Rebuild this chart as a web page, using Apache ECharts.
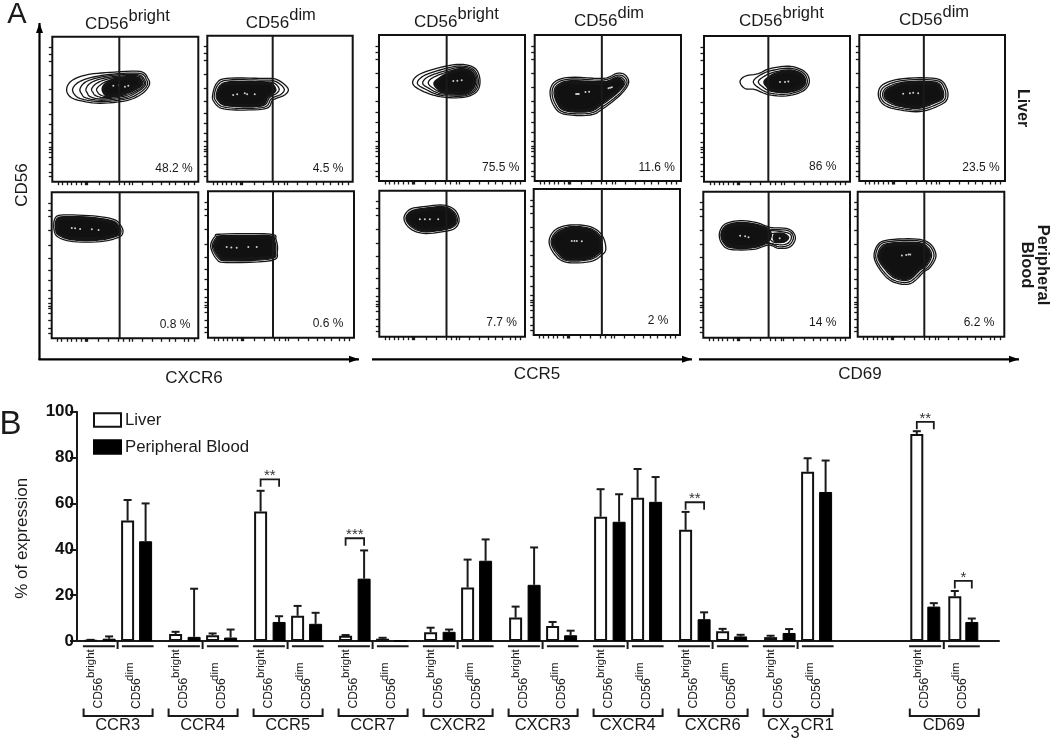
<!DOCTYPE html>
<html><head><meta charset="utf-8">
<style>html,body{margin:0;padding:0;background:#fff}#c{width:1050px;height:739px}</style>
<script src="https://cdn.jsdelivr.net/npm/echarts@6/dist/echarts.min.js"></script>
</head><body><div id="c"></div>
<script>
// ---------- Panel B data ----------
const markers = ['CCR3','CCR4','CCR5','CCR7','CXCR2','CXCR3','CXCR4','CXCR6','CX3CR1','CD69'];
const markerSlots = [0,1,2,3,4,5,6,7,8,9.72];
// order in each marker: bright, dim
const liverBright = [0.3,3,56.5,2.3,3.8,10.2,54.2,48.5,1.7,90.3];
const liverBrightTop = [0.5,4,65.5,2.6,5.8,15,66.2,56.3,2.3,91.5];
const bloodBright = [1,1.8,8.3,27.2,4,24.5,52,9.5,3.5,15];
const bloodBrightTop = [2,22.8,10.8,39.5,5,40.8,64,12.5,5.2,16.5];
const liverDim = [52.5,2.5,11,1,23.3,6.5,62.5,4.2,73.8,19.5];
const liverDimTop = [61.5,3.3,15.3,1.4,35.5,8.3,75,5.3,79.7,21.8];
const bloodDim = [43.5,1.5,7.5,0,35,2.5,60.7,2,65,8.3];
const bloodDimTop = [60,5,12.3,0,44.3,4.5,71.5,2.7,78.7,9.8];
const yTicks = {min:0,max:100,interval:20};
// marker, first bar, second bar, level, stars
const sigMarker = [2,3,7,9,9];
const sigFirstBar = [0,0,0,0,2];
const sigLevel = [70.5,44.8,60.5,95.6,26.2];
const sigStars = ['**','***','**','**','*'];

// ---------- Panel A data: contour rings ----------
const liverCXCR6Bright = [
 [[43,280],[58,305],[103,323],[173,330],[263,333],[288,310],[290,290],[268,265],[223,245],[143,237],[83,245],[53,257]],
 [[61,280],[78,300],[118,315],[183,325],[263,327],[283,307],[284,290],[263,269],[221,250],[143,242],[88,250],[68,262]],
 [[83,280],[98,300],[133,313],[188,322],[258,323],[278,305],[278,290],[258,273],[218,254],[148,246],[101,253],[88,265]],
 [[101,280],[113,297],[143,310],[190,318],[255,320],[274,304],[274,291],[255,276],[215,258],[150,250],[115,256],[105,268]],
 [[118,280],[130,295],[155,307],[192,315],[252,317],[270,303],[270,292],[252,279],[212,261],[158,254],[130,260],[122,270]],
 [[133,280],[145,293],[165,304],[195,312],[250,314],[267,302],[267,293],[250,281],[210,264],[165,257],[143,263],[136,271]]];
const liverCXCR6BrightCore = [[[153,283],[165,297],[195,310],[250,312],[264,301],[264,294],[248,284],[208,267],[170,260],[157,268]]];
const liverCXCR6BrightSpots = [[183,290],[200,291],[218,287],[228,290]];

const liverCXCR6Dim = [
 [[16,260],[28,295],[58,310],[158,310],[208,307],[243,280],[233,260],[198,245],[178,220],[98,215],[43,220],[20,240]],
 [[21,260],[33,292],[63,305],[158,305],[203,302],[231,280],[223,263],[193,249],[173,224],[98,220],[46,225],[26,242]],
 [[27,260],[38,288],[68,300],[158,300],[198,297],[216,280],[210,266],[188,253],[168,228],[98,225],[50,230],[32,244]]];
const liverCXCR6DimCore = [[[33,260],[43,284],[70,295],[155,295],[190,292],[203,278],[198,268],[180,255],[163,232],[98,229],[53,234],[37,246]]];
const liverCXCR6DimSpots = [[78,260],[90,262],[113,265],[120,262],[143,262]];

const bloodCXCR6Bright = [
 [[7,325],[10,360],[35,370],[125,367],[185,357],[205,340],[213,320],[200,303],[145,290],[65,290],[20,303]],
 [[12,325],[14,356],[37,365],[125,362],[182,352],[200,338],[207,320],[196,307],[145,295],[65,295],[23,308]]];
const bloodCXCR6BrightCore = [[[16,325],[18,352],[40,361],[125,358],[178,348],[195,335],[200,320],[190,311],[145,300],[65,300],[27,312]]];
const bloodCXCR6BrightSpots = [[60,331],[70,330],[85,328],[120,327],[140,325]];

const bloodCXCR6Dim = [
 [[8,273],[21,303],[41,310],[186,310],[204,293],[208,258],[191,231],[56,225],[26,235]],
 [[13,273],[25,299],[43,305],[184,305],[200,290],[203,258],[188,236],[58,230],[30,240]]];
const bloodCXCR6DimCore = [[[20,273],[30,295],[46,300],[180,300],[195,288],[197,258],[184,241],[60,235],[35,245]]];
const bloodCXCR6DimSpots = [[56,271],[70,270],[86,269],[121,271],[146,271]];

const liverCCR5Bright = [
 [[101,293],[118,318],[173,338],[243,350],[288,338],[303,303],[293,268],[253,251],[183,253],[128,271]],
 [[115,293],[133,315],[183,333],[243,345],[283,335],[298,303],[289,271],[251,255],[183,258],[138,276]],
 [[131,293],[146,312],[190,328],[243,341],[280,332],[294,303],[285,273],[250,258],[185,262],[150,278]],
 [[148,293],[158,308],[195,324],[243,337],[277,329],[290,303],[281,275],[249,261],[190,265],[162,279]]];
const liverCCR5BrightCore = [[[168,293],[180,305],[205,320],[243,333],[274,326],[286,303],[278,278],[248,264],[195,268],[176,280]]];
const liverCCR5BrightSpots = [[223,300],[235,301],[248,302]];

const liverCCR5Dim = [
 [[46,268],[61,298],[106,311],[206,308],[246,323],[271,318],[281,293],[256,258],[206,218],[166,198],[86,201],[56,228]],
 [[52,268],[66,294],[108,306],[206,303],[246,317],[267,313],[276,293],[252,260],[203,223],[164,203],[88,206],[61,232]],
 [[58,268],[71,290],[110,301],[206,298],[246,312],[263,308],[270,292],[246,263],[200,228],[162,208],[90,211],[66,236]]];
const liverCCR5DimCore = [[[64,268],[76,286],[112,296],[206,293],[245,306],[258,302],[263,290],[240,266],[196,233],[160,213],[92,216],[70,240]]];
const liverCCR5DimSpots = [[124,261],[128,261],[132,261],[152,267],[163,268],[221,278],[226,280],[231,281]];

const bloodCCR5Bright = [
 [[74,355],[92,382],[132,390],[192,395],[227,380],[240,350],[227,325],[192,315],[132,310],[92,325]],
 [[80,355],[96,377],[133,385],[192,390],[223,376],[235,350],[223,330],[190,320],[133,315],[96,330]]];
const bloodCCR5BrightCore = [[[85,355],[100,373],[135,380],[190,385],[218,372],[228,350],[218,334],[188,325],[135,320],[100,335]]];
const bloodCCR5BrightSpots = [[122,352],[137,352],[152,352],[177,352]];

const bloodCCR5Dim = [
 [[46,280],[64,315],[109,330],[169,325],[204,300],[216,260],[204,240],[169,220],[99,218],[64,240]],
 [[52,280],[69,311],[110,325],[167,320],[199,297],[206,258],[199,244],[167,226],[100,223],[68,245]]];
const bloodCCR5DimCore = [[[58,280],[75,306],[112,319],[164,315],[194,293],[201,258],[194,249],[164,232],[102,229],[74,250]]];
const bloodCCR5DimSpots = [[114,282],[122,282],[129,282],[144,281]];

const liverCD69Bright = [
 [[108,300],[123,317],[163,325],[198,340],[258,347],[303,330],[316,300],[298,273],[248,258],[193,262],[153,277],[123,280]],
 [[148,300],[163,317],[198,333],[258,341],[298,327],[310,300],[294,277],[248,263],[195,267],[163,283]],
 [[163,300],[175,313],[205,328],[258,336],[294,324],[305,300],[290,280],[248,268],[200,272],[175,286]]];
const liverCD69BrightCore = [[[183,300],[195,312],[215,323],[258,331],[290,321],[300,300],[286,283],[248,273],[205,276],[190,288]]];
const liverCD69BrightSpots = [[228,300],[243,300],[253,301]];

const liverCD69Dim = [
 [[57,260],[72,290],[132,307],[232,307],[262,280],[264,245],[237,225],[182,208],[112,215],[72,230]],
 [[63,260],[78,285],[134,302],[230,302],[256,278],[258,247],[233,230],[180,213],[114,220],[76,235]],
 [[70,260],[84,281],[136,297],[227,297],[250,276],[252,249],[229,235],[178,218],[117,225],[81,240]]];
const liverCD69DimCore = [[[78,260],[92,277],[140,292],[223,292],[244,274],[246,251],[225,240],[176,223],[120,230],[87,245]]];
const liverCD69DimSpots = [[132,262],[152,263],[162,265],[177,263]];

const bloodCD69Bright = [
 [[48,313],[65,341],[110,351],[160,345],[200,331],[255,326],[275,301],[260,273],[225,268],[195,278],[150,265],[80,265],[55,283]],
 [[53,313],[69,337],[110,346],[160,340],[198,326],[253,321],[269,301],[256,278],[225,273],[195,283],[150,270],[82,270],[59,287]],
 [[185,320],[250,315],[263,301],[252,283],[225,279],[185,290]],
 [[205,312],[240,312],[255,300],[240,287],[210,287],[198,300]]];
const bloodCD69BrightCore = [
 [[58,313],[74,333],[112,341],[160,335],[195,322],[195,295],[150,275],[85,275],[64,290]],
 [[215,308],[240,308],[248,298],[238,290],[215,292]]];
const bloodCD69BrightSpots = [[110,306],[125,304],[135,301],[228,298]];

const bloodCD69Dim = [
 [[49,240],[62,280],[97,293],[177,295],[217,280],[234,245],[217,210],[197,195],[157,160],[107,165],[72,195]],
 [[54,240],[66,277],[99,288],[177,290],[213,276],[228,245],[212,212],[192,198],[155,166],[109,170],[76,199]],
 [[60,240],[71,273],[101,283],[176,285],[208,272],[221,245],[206,214],[187,202],[153,172],[112,176],[81,204]]];
const bloodCD69DimCore = [[[66,240],[76,268],[104,278],[174,280],[203,268],[214,245],[200,217],[182,206],[151,178],[115,182],[86,208]]];
const bloodCD69DimSpots = [[132,245],[145,247],[152,248],[157,248]];

const gatePositions = [201,197,203,195,203,201,202,204,193,194,195,199];
const percentLabels = ['48.2 %','4.5 %','0.8 %','0.6 %','75.5 %','11.6 %','7.7 %','2 %','86 %','23.5 %','14 %','6.2 %'];
const xAxisTicks = [18,30,45,58,72,88,100,103,106,140,170,200,215,232,240,270,300,328,350,370,395,408,425];
const yAxisTicks = [405,385,365,323,280,240,205,175,145,120,105,97,90,75,53,30,15];

// ---------- Layout ----------
const FONT = '"Liberation Sans", Arial, sans-serif';
const INK = '#1a1a1a';
const frames = [
 [52.3,36.7,146,145],[207.3,35.7,145.4,146],[51.7,192.3,146.6,146],[208,191.3,146,146.4],
 [379,35,146,146],[534.7,35,146.3,146],[379.3,190.7,145.7,146],[533.7,189,146.3,146],
 [704,36,146,145.7],[859.3,35,145.7,146],[703.3,191.7,146.7,146],[857.7,191.7,146.6,145]];
const percentAt = [[174,169],[328,169],[175,325],[328,324],[500.7,168],[656.7,168],[501.7,323],[658,321],[822.7,167],[981,168],[822.7,323],[979,323]];
const panelData = [
 [liverCXCR6Bright,liverCXCR6BrightCore,liverCXCR6BrightSpots],[liverCXCR6Dim,liverCXCR6DimCore,liverCXCR6DimSpots],
 [bloodCXCR6Bright,bloodCXCR6BrightCore,bloodCXCR6BrightSpots],[bloodCXCR6Dim,bloodCXCR6DimCore,bloodCXCR6DimSpots],
 [liverCCR5Bright,liverCCR5BrightCore,liverCCR5BrightSpots],[liverCCR5Dim,liverCCR5DimCore,liverCCR5DimSpots],
 [bloodCCR5Bright,bloodCCR5BrightCore,bloodCCR5BrightSpots],[bloodCCR5Dim,bloodCCR5DimCore,bloodCCR5DimSpots],
 [liverCD69Bright,liverCD69BrightCore,liverCD69BrightSpots],[liverCD69Dim,liverCD69DimCore,liverCD69DimSpots],
 [bloodCD69Bright,bloodCD69BrightCore,bloodCD69BrightSpots],[bloodCD69Dim,bloodCD69DimCore,bloodCD69DimSpots]];

// Panel B x scale: one slot per marker
const slotWidth = 85, slotStart = 13.6;
const barOffsets = [0,18.5,37,55];
const lastMarkerOffsets = [0,17,38,55];
const markerX = i => slotStart + slotWidth * markerSlots[i];
const barX = (i,b) => markerX(i) + (i===markers.length-1 ? lastMarkerOffsets : barOffsets)[b];

const grids = [{left:77,top:411.7,width:922,height:229.3,show:false}];
const xAxes = [{type:'value',gridIndex:0,min:0,max:922,show:true,
  axisLine:{show:true,lineStyle:{color:INK,width:2}},axisTick:{show:false},axisLabel:{show:false},splitLine:{show:false}}];
const yAxes = [{type:'value',gridIndex:0,min:yTicks.min,max:yTicks.max,interval:yTicks.interval,
  axisLine:{show:true,onZero:false,lineStyle:{color:INK,width:2}},axisTick:{show:true,length:7,lineStyle:{color:INK,width:2}},
  axisLabel:{color:'#111',fontFamily:FONT,fontWeight:'bold',fontSize:17,margin:3},splitLine:{show:false},
  name:'% of expression',nameLocation:'middle',nameGap:46,nameRotate:90,
  nameTextStyle:{color:INK,fontFamily:FONT,fontSize:17,padding:[0,0,0,-24]}}];

const series = [];
const liverPts = [], bloodPts = [], errPts = [];
markers.forEach((m,i)=>{
  liverPts.push([barX(i,0),liverBright[i]],[barX(i,2),liverDim[i]]);
  bloodPts.push([barX(i,1),bloodBright[i]],[barX(i,3),bloodDim[i]]);
  errPts.push([barX(i,0),liverBright[i],liverBrightTop[i]],[barX(i,1),bloodBright[i],bloodBrightTop[i]],
              [barX(i,2),liverDim[i],liverDimTop[i]],[barX(i,3),bloodDim[i],bloodDimTop[i]]);
});
series.push({name:'Liver',type:'bar',xAxisIndex:0,yAxisIndex:0,data:liverPts,barWidth:13,barGap:'-100%',z:3,
  itemStyle:{color:'#fff',borderColor:'#111',borderWidth:2}});
series.push({name:'Peripheral Blood',type:'bar',xAxisIndex:0,yAxisIndex:0,data:bloodPts,barWidth:13,barGap:'-100%',z:3,
  itemStyle:{color:'#000',borderColor:'#000',borderWidth:1}});
series.push({type:'custom',xAxisIndex:0,yAxisIndex:0,data:errPts,encode:{x:0,y:2},z:2,silent:true,
  renderItem(p,api){
    const a=api.coord([api.value(0),api.value(1)]), b=api.coord([api.value(0),api.value(2)]);
    const st={stroke:INK,lineWidth:2,fill:null};
    if(api.value(2)<=api.value(1)) return null;
    return {type:'group',children:[
      {type:'line',shape:{x1:a[0],y1:a[1],x2:b[0],y2:b[1]},style:st},
      {type:'line',shape:{x1:b[0]-4,y1:b[1],x2:b[0]+4,y2:b[1]},style:st}]};
  }});
// significance brackets
series.push({type:'custom',xAxisIndex:0,yAxisIndex:0,
  data:sigMarker.map((m,k)=>[barX(m,sigFirstBar[k]),sigLevel[k],barX(m,sigFirstBar[k]+1)]),encode:{x:0,y:1},z:4,silent:true,
  renderItem(p,api){
    const a=api.coord([api.value(0),api.value(1)]), b=api.coord([api.value(2),api.value(1)]);
    return {type:'group',children:[
      {type:'polyline',shape:{points:[[a[0],a[1]+7.5],[a[0],a[1]],[b[0],b[1]],[b[0],b[1]+7.5]]},style:{stroke:INK,lineWidth:1.8,fill:null}},
      {type:'text',x:(a[0]+b[0])/2,y:a[1]-3,style:{text:sigStars[p.dataIndex],align:'center',verticalAlign:'middle',font:'15px '+FONT,fill:'#333'}}]};
  }});
// marker groups below the axis
function groupLabel(i,x,y){
  const f='16.5px '+FONT;
  if(markers[i]==='CX3CR1') return [
    {type:'text',x:x-3.5,y,style:{text:'CX',align:'left',verticalAlign:'middle',font:f,fill:INK}},
    {type:'text',x:x+20,y:y+8,style:{text:'3',align:'left',verticalAlign:'middle',font:f,fill:INK}},
    {type:'text',x:x+30,y,style:{text:'CR1',align:'left',verticalAlign:'middle',font:f,fill:INK}}];
  return [{type:'text',x:x+27,y,style:{text:markers[i],align:'center',verticalAlign:'middle',font:f,fill:INK}}];
}
series.push({type:'custom',xAxisIndex:0,yAxisIndex:0,data:markers.map((m,i)=>[markerX(i),0]),encode:{x:0,y:1},z:4,silent:true,
  renderItem(p,api){
    const c=api.coord([api.value(0),0]), x=c[0], y=c[1], i=p.dataIndex;
    const st={stroke:INK,lineWidth:2,fill:null};
    const rot=(t,dx,by,size)=>({type:'text',x:x+dx,y:by,rotation:Math.PI/2,style:{text:t,align:'left',verticalAlign:'middle',font:size+'px '+FONT,fill:INK}});
    return {type:'group',children:[
      {type:'line',shape:{x1:x-7.7,y1:y+5.3,x2:x+24.3,y2:y+5.3},style:st},
      {type:'line',shape:{x1:x+27,y1:y,x2:x+27,y2:y+8},style:st},
      {type:'line',shape:{x1:x+31.3,y1:y+5.3,x2:x+63,y2:y+5.3},style:st},
      rot('CD56',8.3,708.5,12), rot('bright',0.7,678,11.5),
      rot('CD56',46.3,709,12), rot('dim',39,681,11.5),
      {type:'polyline',shape:{points:[[x-7,y+67.5],[x-7,y+75],[x+62,y+75],[x+62,y+67.5]]},style:st},
      ...groupLabel(i,x,725)
    ]};
  }});

// Rounds the outline drawn through a ring's read points (closed Catmull-Rom, drawing only)
function roundOutline(pts){
  const out=[], n=pts.length;
  for(let i=0;i<n;i++){
    const a=pts[(i-1+n)%n], b=pts[i], c=pts[(i+1)%n], d=pts[(i+2)%n];
    for(let s=0;s<6;s++){
      const t=s/6, t2=t*t, t3=t2*t;
      out.push([0,1].map(k=>0.5*(2*b[k]+(c[k]-a[k])*t+(2*a[k]-5*b[k]+4*c[k]-d[k])*t2+(3*b[k]-a[k]-3*c[k]+d[k])*t3)));
    }
  }
  return out;
}

// Panels A
panelData.forEach(([rings,cores,spots],k)=>{
  const g=k+1, fr=frames[k];
  grids.push({left:fr[0],top:fr[1],width:fr[2],height:fr[3],show:true,borderColor:'#111',borderWidth:2,backgroundColor:'#fff',z:1});
  const base={type:'value',gridIndex:g,min:0,max:438,splitLine:{show:false},axisLabel:{show:false},axisLine:{show:false}};
  xAxes.push({...base,axisTick:{show:true,length:3.5,customValues:xAxisTicks,lineStyle:{color:INK,width:1.3}}});
  yAxes.push({...base,axisTick:{show:true,length:3.5,customValues:yAxisTicks,lineStyle:{color:INK,width:1.3}}});
  const all=rings.map(r=>({r,fill:false})).concat(cores.map(r=>({r,fill:true})));
  series.push({type:'custom',xAxisIndex:g,yAxisIndex:g,data:all.map(o=>[o.r[0][0],o.r[0][1]]),encode:{x:0,y:1},z:3,silent:true,
    renderItem(p,api){
      const o=all[p.dataIndex];
      return {type:'polygon',shape:{points:roundOutline(o.r.map(q=>api.coord(q)))},
        style:{fill:o.fill?'#111':null,stroke:'#151515',lineWidth:o.fill?3.5:1.3,lineJoin:'round'}};
    }});
  series.push({type:'scatter',xAxisIndex:g,yAxisIndex:g,data:spots,symbolSize:2,z:4,silent:true,itemStyle:{color:'#fff'}});
  series.push({type:'line',xAxisIndex:g,yAxisIndex:g,data:[[gatePositions[k],0],[gatePositions[k],438]],showSymbol:false,z:5,silent:true,
    lineStyle:{color:INK,width:2}});
});

// Text and arrows
const gfx=[];
const txt=(t,x,y,o={})=>gfx.push({type:'text',x,y,rotation:o.rot||0,z:20,silent:true,style:{text:t,fill:o.fill||INK,
  font:(o.w?o.w+' ':'')+(o.size||16)+'px '+FONT,align:o.align||'center',verticalAlign:o.va||'middle'}});
const arrow=(x1,y1,x2,y2)=>{
  gfx.push({type:'line',z:20,silent:true,shape:{x1,y1,x2,y2},style:{stroke:'#000',lineWidth:2.2}});
  const pts = y1===y2 ? [[x2,y2],[x2-10,y2-3.5],[x2-10,y2+3.5]] : [[x2,y2],[x2-3.5,y2+10],[x2+3.5,y2+10]];
  gfx.push({type:'polygon',z:20,silent:true,shape:{points:pts},style:{fill:'#000'}});
};
percentLabels.forEach((t,k)=>txt(t,percentAt[k][0],percentAt[k][1],{size:12}));
const topHeads=[[85,'bright'],[245.7,'dim'],[414,'bright'],[574,'dim'],[739,'bright'],[899,'dim']];
const headY=[24,23,22,21,21,20];
topHeads.forEach(([x,s],k)=>{
  txt('CD56',x,headY[k],{size:17,align:'left'});
  txt(s,x+43.5,headY[k]-8,{size:16.5,align:'left'});
});
arrow(39.5,360,39.5,23); arrow(38.5,359.3,359,359.3); arrow(372,359.3,692,359.3); arrow(699,359.3,1019,359.3);
txt('A',17,15,{size:29}); txt('B',10.5,425,{size:33});
txt('CD56',22.5,185,{size:17,rot:Math.PI/2});
txt('CXCR6',194,378,{size:17}); txt('CCR5',537,374,{size:17}); txt('CD69',860,374,{size:17});
txt('Liver',1022,108,{size:16,w:'bold',rot:-Math.PI/2});
txt('Peripheral',1043,265,{size:16.5,w:'bold',rot:-Math.PI/2});
txt('Blood',1027,265,{size:16.5,w:'bold',rot:-Math.PI/2});

const chart=echarts.init(document.getElementById('c'),null,{renderer:'canvas'});
chart.setOption({animation:false,backgroundColor:'#fff',
  grid:grids,xAxis:xAxes,yAxis:yAxes,series,graphic:gfx,
  legend:{show:true,data:['Liver','Peripheral Blood'],orient:'vertical',left:88,top:406.5,itemWidth:27,itemHeight:13.5,itemGap:10,
    align:'left',icon:'rect',textStyle:{fontFamily:FONT,fontSize:16.8,color:INK,padding:[0,0,0,-1]}},
  tooltip:{show:false}});
</script></body></html>
